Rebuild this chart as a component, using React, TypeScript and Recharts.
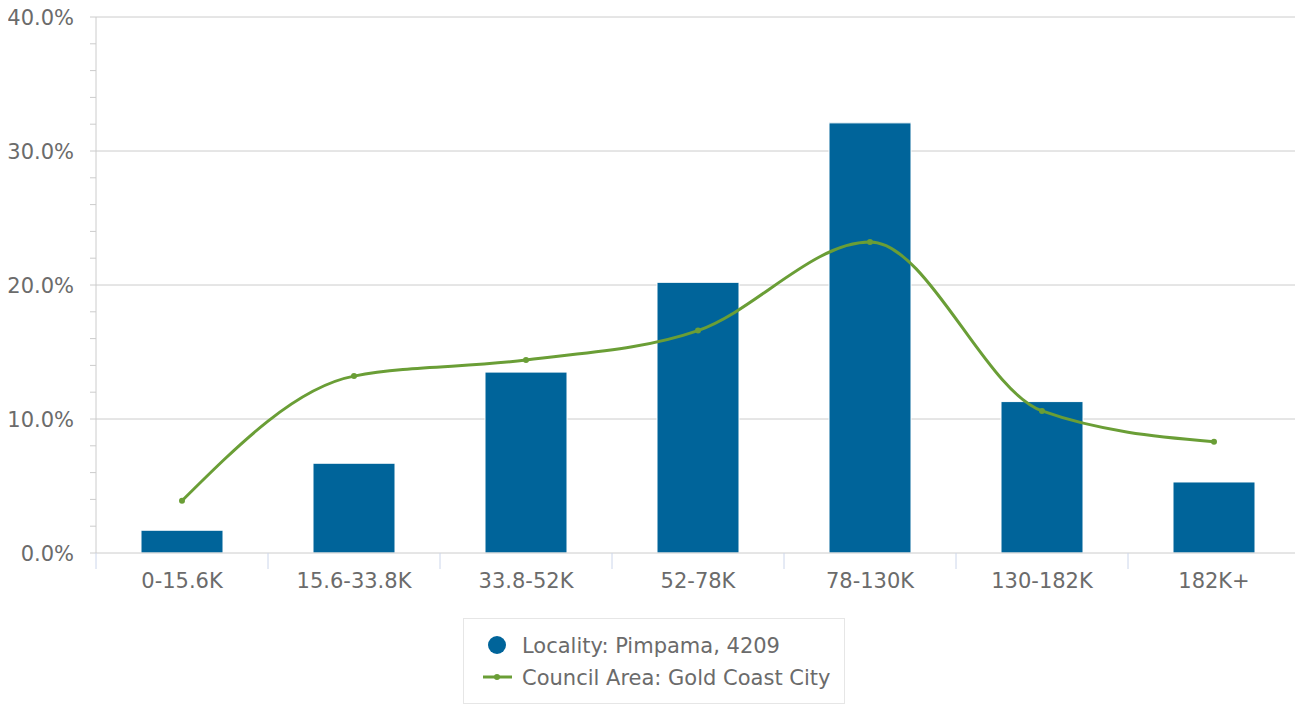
import React from 'react';
import { ComposedChart, Bar, Line, XAxis, YAxis, CartesianGrid, Legend } from 'recharts';

const categories = ['0-15.6K', '15.6-33.8K', '33.8-52K', '52-78K', '78-130K', '130-182K', '182K+'];
const localityValues = [1.7, 6.7, 13.5, 20.2, 32.1, 11.3, 5.3];
const councilValues = [3.9, 13.2, 14.4, 16.6, 23.2, 10.6, 8.3];
const yTicks = [0, 2, 4, 6, 8, 10, 12, 14, 16, 18, 20, 22, 24, 26, 28, 30, 32, 34, 36, 38, 40];
const majorTicks = [10, 20, 30, 40];
const seriesNames = ['Locality: Pimpama, 4209', 'Council Area: Gold Coast City'];

const data = categories.map((c, i) => ({ name: c, locality: localityValues[i], council: councilValues[i] }));

const BLUE = '#00649a';
const GREEN = '#6a9e36';
const TEXT = '#6b6b6b';
const FONT = '"DejaVu Sans", sans-serif';
const FS = 21;

const CHART_W = 1303;
const CHART_H = 704;
const MARGIN = { top: 17, right: 3, left: 0, bottom: 0 };
const Y_W = 96;
const PLOT_W = CHART_W - MARGIN.left - MARGIN.right - Y_W;
const BAND = PLOT_W / categories.length;

const XTick = (props: any) => {
  const { x, y, payload, index } = props;
  const half = BAND / 2;
  return (
    <g>
      <line x1={x - half} x2={x - half} y1={y} y2={y + 16} stroke="#ccd6eb" strokeWidth={1} />
      {index === categories.length - 1 && (
        <line x1={x + half} x2={x + half} y1={y} y2={y + 16} stroke="#ccd6eb" strokeWidth={1} />
      )}
      <text x={x} y={y + 28} textAnchor="middle" dominantBaseline="central" fill={TEXT} fontSize={FS} fontFamily={FONT}>
        {payload.value}
      </text>
    </g>
  );
};

const YTick = (props: any) => {
  const { x, y, payload } = props;
  if (payload.value % 10 !== 0) return <g />;
  return (
    <text x={x} y={y + 1} textAnchor="end" dominantBaseline="central" fill={TEXT} fontSize={FS} fontFamily={FONT}>
      {payload.value.toFixed(1) + '%'}
    </text>
  );
};

const LegendBox = () => (
  <div
    style={{
      width: 382,
      height: 86,
      boxSizing: 'border-box',
      border: '1px solid #e6e6e6',
      background: '#fff',
      position: 'relative',
    }}
  >
    <svg width={382} height={86} style={{ position: 'absolute', left: -1, top: -1 }}>
      <circle cx={34} cy={27} r={9} fill={BLUE} />
      <text x={59} y={28} dominantBaseline="central" fill={TEXT} fontSize={FS} fontFamily={FONT}>
        {seriesNames[0]}
      </text>
      <line x1={20} x2={49} y1={59} y2={59} stroke={GREEN} strokeWidth={3} />
      <circle cx={34} cy={59} r={3} fill={GREEN} />
      <text x={59} y={60} dominantBaseline="central" fill={TEXT} fontSize={FS} fontFamily={FONT}>
        {seriesNames[1]}
      </text>
    </svg>
  </div>
);

export default function App() {
  return (
    <div style={{ width: CHART_W, height: CHART_H, margin: '-8px 0 0 -8px' }}>
      <ComposedChart width={CHART_W} height={CHART_H} data={data} margin={MARGIN}>
        <CartesianGrid horizontal vertical={false} stroke="#cccccc" horizontalValues={majorTicks} />
        <XAxis
          dataKey="name"
          height={65}
          axisLine={{ stroke: '#cccccc' }}
          tickLine={false}
          tickSize={0}
          tickMargin={0}
          interval={0}
          tick={<XTick />}
        />
        <YAxis
          width={Y_W}
          domain={[0, 40]}
          ticks={yTicks}
          interval={0}
          axisLine={{ stroke: '#cccccc' }}
          tickLine={{ stroke: '#cccccc' }}
          tickSize={6}
          tickMargin={16}
          tick={<YTick />}
        />
        <Bar dataKey="locality" name={seriesNames[0]} fill={BLUE} stroke="#ffffff" strokeWidth={1} barSize={82} isAnimationActive={false} />
        <Line
          dataKey="council"
          name={seriesNames[1]}
          type="monotone"
          stroke={GREEN}
          strokeWidth={3}
          dot={{ r: 3, fill: GREEN, stroke: GREEN, strokeWidth: 0 }}
          activeDot={false}
          isAnimationActive={false}
        />
        <Legend
          verticalAlign="bottom"
          height={86}
          content={() => <LegendBox />}
          wrapperStyle={{ left: 463, width: 382, top: 618, bottom: 'auto' }}
        />
      </ComposedChart>
    </div>
  );
}
